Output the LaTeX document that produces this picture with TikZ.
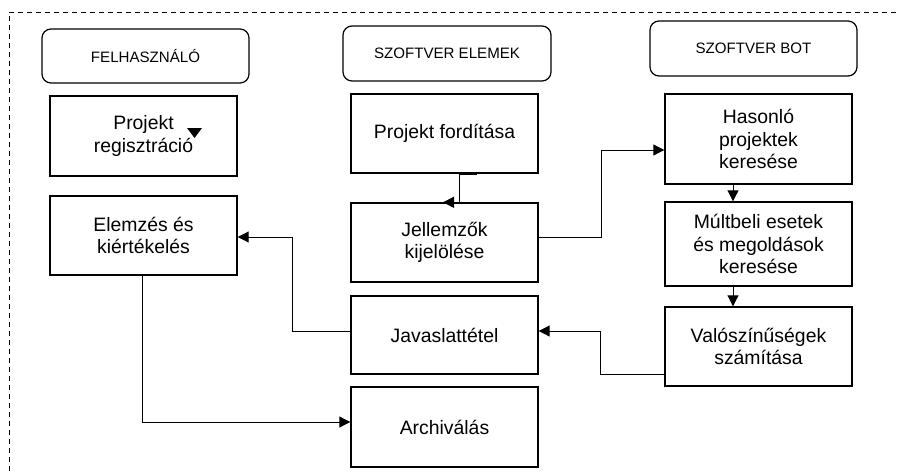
\documentclass[tikz,border=0pt]{standalone}
\usepackage{fontspec}
\setmainfont{Liberation Sans}
\usetikzlibrary{positioning,arrows.meta}

\begin{document}
\begin{tikzpicture}[x=1pt,y=-1pt,
  every node/.style={font=\fontsize{19.4}{22.5}\selectfont},
  head/.style={draw,rounded corners=9pt,line width=1.2pt,minimum width=207pt,
    minimum height=55pt,font=\fontsize{15.1}{18}\selectfont},
  task/.style={draw,line width=1.4pt,minimum width=187pt,align=center,inner sep=2pt},
  flow/.style={line width=1pt,-{Triangle[length=11pt,width=11pt]}}]
  \useasboundingbox (0,0) rectangle (899,474);

  % Dashed frame (runs off right and bottom)
  \draw[line width=1pt,dash pattern=on 5pt off 4pt] (905,12) -- (9,12) -- (9,480);

  % Header boxes
  \node[head,minimum height=54pt] (user) at (145.5,56) {FELHASZNÁLÓ};
  \node[head,minimum width=208pt] (soft) at (447,53.5) {SZOFTVER ELEMEK};
  \node[head] (bot) at (753.5,48.5) {SZOFTVER BOT};

  % FELHASZNALO column
  \node[task,minimum height=80pt] (reg) at (143.5,136) {Projekt\\regisztráció};
  \node[task,minimum height=79pt] (elem) at (143.5,235.5) {Elemzés és\\kiértékelés};
  \fill[shift={(reg.center)}] (43.5,-8) -- (58.5,-8) -- (51,2) -- cycle;

  % SZOFTVER ELEMEK column
  \node[task,minimum height=79pt] (ford) at (444.5,133.5) {Projekt fordítása};
  \node[task,minimum height=79pt] (jell) at (444.5,242.5) {Jellemzők\\kijelölése};
  \node[task,minimum height=78pt] (jav) at (444.5,335) {Javaslattétel};
  \node[task,minimum height=80pt] (arch) at (444.5,427) {Archiválás};

  % SZOFTVER BOT column
  \node[task,minimum height=90pt] (has) at (758.5,139) {Hasonló\\projektek\\keresése};
  \node[task,minimum height=84pt] (mult) at (758.5,244) {Múltbeli esetek\\és megoldások\\keresése};
  \node[task,minimum height=79pt] (val) at (758.5,346.5) {Valószínűségek\\számítása};

  % Connectors
  \draw[line width=1.6pt] ([xshift=14.5pt]ford.south) -- ++(18,0);
  \draw[flow] ([xshift=14.5pt]ford.south) -- ([xshift=14.5pt]jell.north) -- ++(-16,0);
  \draw[flow] ([yshift=5.5pt]jell.east) -- ++(63,0) |- ([yshift=-11pt]has.west);
  \draw[flow] ([xshift=-25.5pt]has.south) -- ([xshift=-25.5pt]mult.north);
  \draw[flow] ([xshift=-25.5pt]mult.south) -- ([xshift=-25.5pt]val.north);
  \draw[flow] ([yshift=-27.5pt]val.west) -- ++(-64,0) |- ([yshift=4pt]jav.east);
  \draw[flow] ([yshift=4pt]jav.west) -- ++(-58,0) |- ([yshift=-1.5pt]elem.east);
  \draw[flow] ([xshift=-1.5pt]elem.south) |- ([yshift=5pt]arch.west);
\end{tikzpicture}
\end{document}
